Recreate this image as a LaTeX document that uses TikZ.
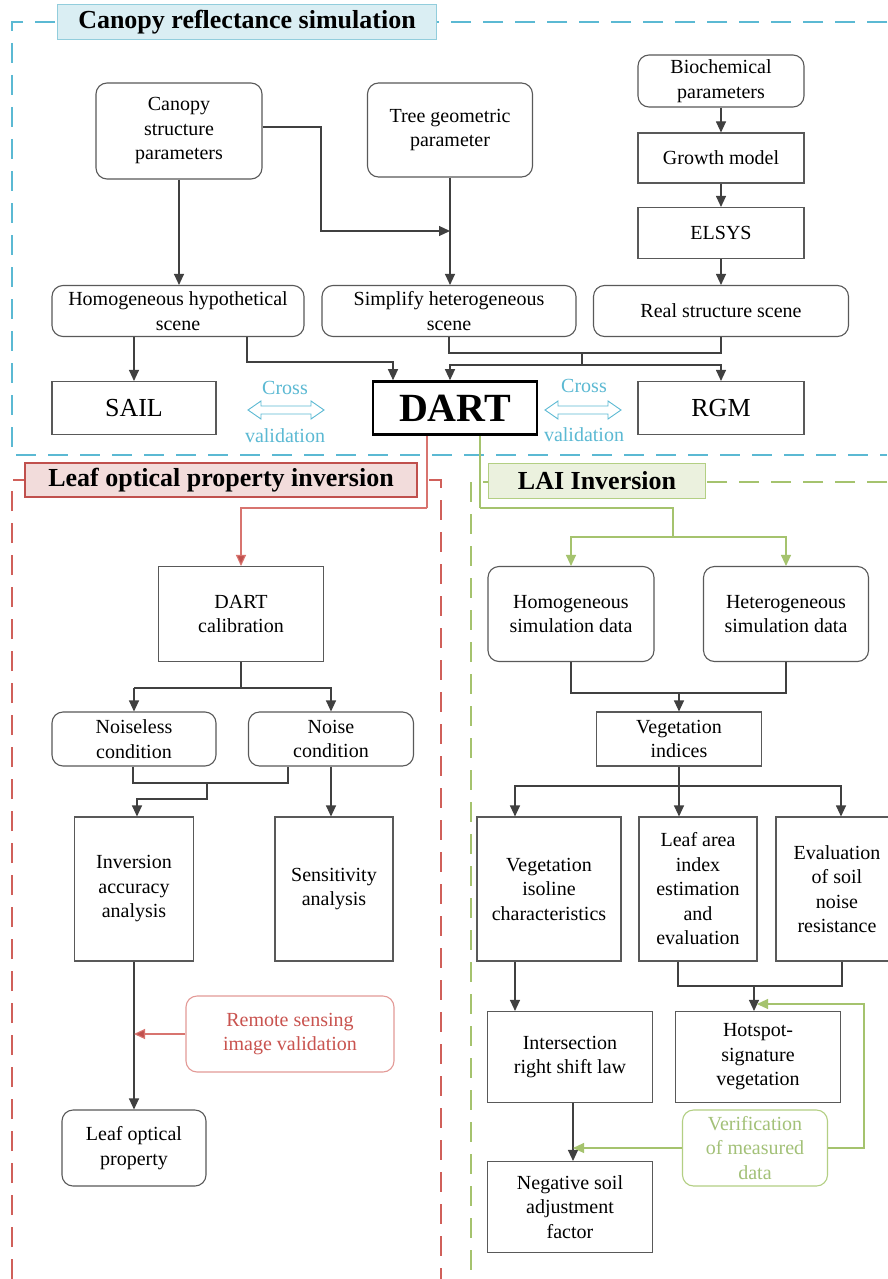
\documentclass[tikz,border=0pt]{standalone}
\usepackage{fontspec}
\setmainfont{Liberation Serif}
\usetikzlibrary{arrows.meta}
\definecolor{lgray}{HTML}{404040}
\definecolor{bgray}{HTML}{595959}
\definecolor{fblue}{HTML}{5BB9D3}
\definecolor{hblue}{HTML}{DAEEF3}
\definecolor{hblueb}{HTML}{92CDDC}
\definecolor{fred}{HTML}{D0605A}
\definecolor{hred}{HTML}{F2DCDB}
\definecolor{hredb}{HTML}{C0504D}
\definecolor{cred}{HTML}{D8746F}
\definecolor{tred}{HTML}{C9534F}
\definecolor{bred}{HTML}{E39A97}
\definecolor{fgreen}{HTML}{A5C36E}
\definecolor{hgreen}{HTML}{EBF1DE}
\definecolor{hgreenb}{HTML}{B3CF83}
\definecolor{tgreen}{HTML}{A3C178}
\tikzset{
  txt/.style={font=\fontsize{20}{24.5}\selectfont, align=center, inner sep=0pt},
  sqbox/.style={txt, draw=bgray, line width=1.1pt, fill=white},
  rbox/.style={sqbox, rounded corners=11pt},
  conn/.style={draw=lgray, line width=1.1pt},
  arr/.style={conn, -{Triangle[length=11pt,width=10pt]}},
  redarr/.style={draw=cred, line width=1.1pt, -{Triangle[length=11pt,width=10pt,fill=hredb]}},
  grnarr/.style={draw=fgreen, line width=1.1pt, -{Triangle[length=11pt,width=10pt]}},
  hdr/.style={font=\fontsize{26}{30}\selectfont\bfseries, inner sep=0pt, line width=1.1pt},
  frame/.style={line width=1.5pt, dash pattern=on 20pt off 12pt},
  cvtext/.style={font=\fontsize{20}{24}\selectfont, text=fblue, inner sep=0pt},
  cvarrow/.style={draw=fblue, line width=0.9pt, fill=white}
}
\begin{document}
\begin{tikzpicture}[x=1pt,y=-1pt]
\useasboundingbox[fill=white] (0,0) rectangle (887,1279);

% ---------- frames ----------
\draw[frame, draw=fblue] (887,22) -- (12,22) -- (12,455) -- (887,455);
\draw[frame, draw=fred] (12,1279) -- (12,480) -- (441,480) -- (441,1279);
\draw[frame, draw=fgreen] (887,482) -- (471,482) -- (471,1279);

% ---------- canopy section ----------
\node[hdr, draw=hblueb, fill=hblue, minimum width=379pt, minimum height=35pt] (h1) at (247,22) {Canopy reflectance simulation};

\node[rbox, minimum width=166pt, minimum height=96pt] (csp) at (179,131) {Canopy\\structure\\parameters};
\node[rbox, minimum width=165pt, minimum height=94pt] (tgp) at (450,130) {Tree geometric\\parameter};
\node[rbox, minimum width=166pt, minimum height=52pt] (bio) at (721,81) {Biochemical\\parameters};
\node[sqbox, minimum width=166pt, minimum height=50pt] (gm) at (721,158) {Growth model};
\node[sqbox, minimum width=166pt, minimum height=51pt] (elsys) at (721,233) {ELSYS};
\node[rbox, minimum width=255pt, minimum height=51pt] (rss) at (721,311) {Real structure scene};
\node[rbox, minimum width=252pt, minimum height=51pt] (hhs) at (178,311) {Homogeneous hypothetical\\scene};
\node[rbox, minimum width=254pt, minimum height=51pt] (shs) at (449,311) {Simplify heterogeneous\\scene};
\node[sqbox, font=\fontsize{26}{30}\selectfont, minimum width=164pt, minimum height=53pt] (sail) at (134,408) {SAIL};
\node[sqbox, draw=black, line width=2.6pt, font=\fontsize{40}{44}\selectfont\bfseries, minimum width=164pt, minimum height=53pt] (dart) at (455,408) {DART};
\node[sqbox, font=\fontsize{26}{30}\selectfont, minimum width=166pt, minimum height=53pt] (rgm) at (721,408) {RGM};

% cross validation
\node[cvtext] (cv1a) at (285,388) {Cross};
\node[cvtext] (cv1b) at (285,436) {validation};
\node[cvtext] (cv2a) at (584,386) {Cross};
\node[cvtext] (cv2b) at (584,435) {validation};
\coordinate (cva) at (286,410);
\coordinate (cvb) at (583,410);
\foreach \c in {cva,cvb}{
  \draw[cvarrow] ([xshift=-38pt]\c) -- ++(13,-9) -- ++(0,5) -- ++(50,0) -- ++(0,-5) -- ++(13,9) -- ++(-13,9) -- ++(0,-5) -- ++(-50,0) -- ++(0,5) -- cycle;
}

% canopy connectors
\draw[arr] (csp.south) -- (csp.south |- hhs.north);
\coordinate (j1) at (450,231);
\draw[arr] ([yshift=4pt]csp.east) -- (321,127) -- (321,231) -- (j1);
\draw[arr] (tgp.south) -- (tgp.south |- shs.north);
\draw[arr] (bio) -- (gm);
\draw[arr] (gm) -- (elsys);
\draw[arr] (elsys) -- (rss);
\draw[arr] (sail.north |- hhs.south) -- (sail.north);
\draw[arr] ([xshift=69pt]hhs.south) -- (247,362) -- (393,362) -- ([xshift=-62pt]dart.north);
\draw[conn] (shs.south) -- (449,353) -- (721,353) -- (rss.south);
\draw[conn] (582,353) -- (582,365);
\draw[arr] (582,365) -- (450,365) -- ([xshift=-5pt]dart.north);
\draw[arr] (582,365) -- (721,365) -- (rgm.north);

% ---------- leaf section ----------
\draw[draw=cred, line width=1.1pt] ([xshift=-28pt]dart.south) -- (427,508);
\draw[draw=fgreen, line width=1.1pt] ([xshift=25pt]dart.south) -- (480,508);
\node[hdr, draw=hredb, fill=hred, minimum width=392pt, minimum height=34pt] (h2) at (221,480) {Leaf optical property inversion};
\node[hdr, draw=hgreenb, fill=hgreen, minimum width=217pt, minimum height=35pt] (h3) at (597,481) {LAI Inversion};

\node[sqbox, minimum width=165pt, minimum height=95pt] (dcal) at (241,614) {DART\\calibration};
\node[rbox, minimum width=164pt, minimum height=54pt] (nl) at (134,739) {Noiseless\\condition};
\node[rbox, minimum width=165pt, minimum height=54pt] (nc) at (331,739) {Noise\\condition};
\node[sqbox, minimum width=119pt, minimum height=144pt] (iaa) at (134,889) {Inversion\\accuracy\\analysis};
\node[sqbox, minimum width=118pt, minimum height=144pt] (sa) at (334,889) {Sensitivity\\analysis};
\node[rbox, draw=bred, text=tred, minimum width=208pt, minimum height=76pt] (rsiv) at (290,1034) {Remote sensing\\image validation};
\node[rbox, minimum width=144pt, minimum height=76pt] (lop) at (134,1148) {Leaf optical\\property};

\draw[redarr] (427,508) -- (241,508) -- (dcal.north);
\draw[conn] (dcal.south) -- (241,688);
\draw[arr] (134,688) -- (nl.north);
\draw[arr] (134,688) -- (331,688) -- (nc.north);
\draw[conn] ([xshift=-1pt]nl.south) -- (133,783) -- (288,783) -- ([xshift=-43pt]nc.south);
\draw[arr] (207,783) -- (207,799) -- (137,799) -- ([xshift=3pt]iaa.north);
\draw[arr] (nc.south) -- (nc.south |- sa.north);
\draw[arr] (iaa.south) -- (lop.north);
\draw[redarr] (rsiv.west) -- (iaa.south |- rsiv.west);

% ---------- LAI section ----------
\node[rbox, minimum width=166pt, minimum height=95pt] (hsd) at (571,614) {Homogeneous\\simulation data};
\node[rbox, minimum width=165pt, minimum height=95pt] (hetsd) at (786,614) {Heterogeneous\\simulation data};
\node[sqbox, minimum width=165pt, minimum height=54pt] (vi) at (679,739) {Vegetation\\indices};
\node[sqbox, minimum width=144pt, minimum height=144pt] (vic) at (549,889) {Vegetation\\isoline\\characteristics};
\node[sqbox, minimum width=118pt, minimum height=144pt] (lai) at (698,889) {Leaf area\\index\\estimation\\and\\evaluation};
\node[sqbox, minimum width=122pt, minimum height=144pt] (esnr) at (837,889) {Evaluation\\of soil\\noise\\resistance};
\node[sqbox, minimum width=165pt, minimum height=91pt] (irsl) at (570,1057) {Intersection\\right shift law};
\node[sqbox, minimum width=165pt, minimum height=91pt] (hsv) at (758,1057) {Hotspot-\\signature\\vegetation};
\node[sqbox, minimum width=165pt, minimum height=91pt] (nsaf) at (570,1207) {Negative soil\\adjustment\\factor};
\node[rbox, draw=hgreenb, text=tgreen, minimum width=145pt, minimum height=76pt] (vmd) at (755,1148) {Verification\\of measured\\data};

\draw[draw=fgreen, line width=1.1pt] (480,508) -- (673,508) -- (673,537);
\draw[grnarr] (673,537) -- (571,537) -- (hsd.north);
\draw[grnarr] (673,537) -- (786,537) -- (hetsd.north);
\draw[conn] (hsd.south) -- (571,693) -- (786,693) -- (hetsd.south);
\draw[arr] (679,693) -- (vi.north);
\draw[conn] (vi.south) -- (679,786);
\draw[arr] (679,786) -- (515,786) -- ([xshift=-34pt]vic.north);
\draw[arr] (679,786) -- ([xshift=-19pt]lai.north);
\draw[arr] (679,786) -- (841,786) -- ([xshift=4pt]esnr.north);
\draw[conn] ([xshift=-20pt]lai.south) -- (678,986) -- (842,986) -- ([xshift=5pt]esnr.south);
\draw[arr] (754,986) -- ([xshift=-4pt]hsv.north);
\draw[arr] ([xshift=-34pt]vic.south) -- ([xshift=-55pt]irsl.north);
\draw[arr] ([xshift=3pt]irsl.south) -- ([xshift=3pt]nsaf.north);
\draw[grnarr] (vmd.west) -- ([xshift=3pt]irsl.south |- vmd.west);
\draw[grnarr] (vmd.east) -- (864,1148) -- (864,1004) -- (757,1004);
\end{tikzpicture}
\end{document}
